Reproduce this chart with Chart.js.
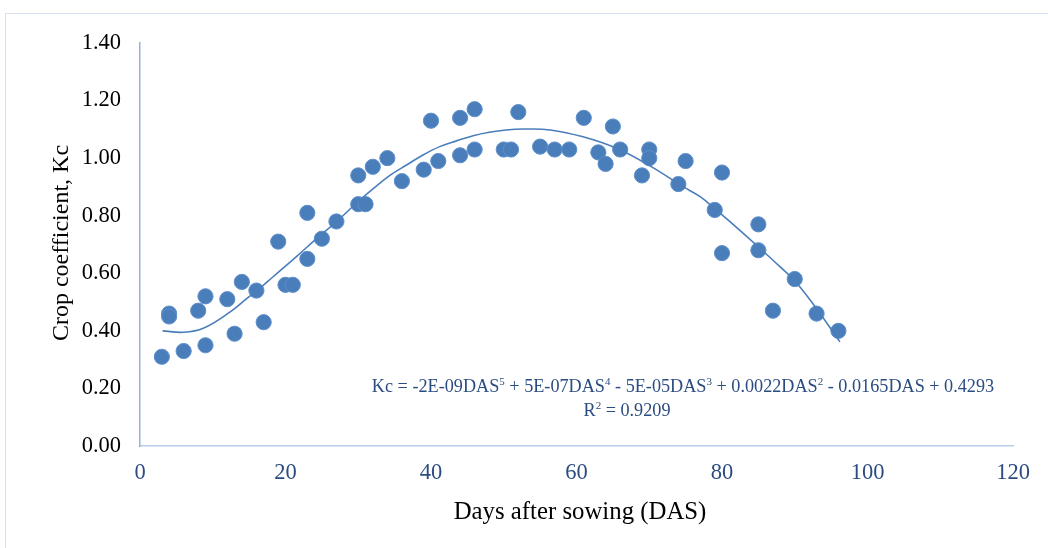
<!DOCTYPE html>
<html>
<head>
<meta charset="utf-8">
<script src="https://cdn.jsdelivr.net/npm/chart.js@4.4.1/dist/chart.umd.min.js"></script>
<style>
  html, body { margin: 0; padding: 0; background: #ffffff; overflow: hidden; }
  #frame { position: absolute; left: 5px; top: 13px; width: 1200px; height: 700px; border: 1px solid #d6e0ef; box-sizing: border-box; }
  #wrap { position: absolute; left: 0; top: 0; width: 1048px; height: 548px; }
</style>
</head>
<body>
<div id="frame"></div>
<div id="wrap"><canvas id="c" width="1048" height="548"></canvas></div>
<script>
// Observed data: days after sowing and crop coefficient
const das = [3, 4, 4, 6, 8, 9, 9, 12, 13, 14, 16, 17, 19, 20, 21, 23, 23, 25, 27, 30, 30, 31, 32, 34, 36, 39, 40, 41, 44, 44, 46, 46, 50, 51, 52, 55, 57, 59, 61, 63, 64, 65, 66, 69, 70, 70, 74, 75, 79, 80, 80, 85, 85, 87, 90, 93, 96];
const kc  = [0.31, 0.46, 0.45, 0.33, 0.47, 0.52, 0.35, 0.51, 0.39, 0.57, 0.54, 0.43, 0.71, 0.56, 0.56, 0.81, 0.65, 0.72, 0.78, 0.94, 0.84, 0.84, 0.97, 1.00, 0.92, 0.96, 1.13, 0.99, 1.14, 1.01, 1.17, 1.03, 1.03, 1.03, 1.16, 1.04, 1.03, 1.03, 1.14, 1.02, 0.98, 1.11, 1.03, 0.94, 1.03, 1.00, 0.91, 0.99, 0.82, 0.95, 0.67, 0.77, 0.68, 0.47, 0.58, 0.46, 0.40];

// Trendline (5th-order polynomial)
const trendX = [3.1, 6.0, 8.7, 12.4, 14.7, 16.2, 18.3, 21.5, 24.3, 27.0, 29.8, 32.1, 34.4, 36.7, 38.9, 41.2, 43.5, 45.8, 48.0, 50.3, 52.7, 56.4, 60.9, 65.5, 70.1, 74.7, 77.0, 79.2, 81.6, 85.2, 88.0, 90.2, 93.2, 96.2];
const trendY = [0.400, 0.395, 0.409, 0.466, 0.513, 0.542, 0.588, 0.658, 0.721, 0.779, 0.845, 0.895, 0.941, 0.977, 1.011, 1.040, 1.060, 1.078, 1.090, 1.098, 1.101, 1.098, 1.074, 1.034, 0.973, 0.900, 0.866, 0.820, 0.768, 0.687, 0.622, 0.568, 0.470, 0.362];

const xTicks = [0, 20, 40, 60, 80, 100, 120];
const yTicks = [0, 0.2, 0.4, 0.6, 0.8, 1.0, 1.2, 1.4];

const xTitle = "Days after sowing (DAS)";
const yTitle = "Crop coefficient, Kc";
const eqParts = [["Kc = -2E-09DAS", 0], ["5", 1], [" + 5E-07DAS", 0], ["4", 1], [" - 5E-05DAS", 0], ["3", 1], [" + 0.0022DAS", 0], ["2", 1], [" - 0.0165DAS + 0.4293", 0]];
const r2Parts = [["R", 0], ["2", 1], [" = 0.9209", 0]];

const FONT = "'Liberation Serif', 'Times New Roman', serif";
const BLUE = '#4a7ebb';

const scatterPts = das.map((d, i) => ({ x: d, y: kc[i] }));
const trendPts = trendX.map((d, i) => ({ x: d, y: trendY[i] }));

function drawRich(ctx, parts, cx, cy, size, color) {
  const sup = Math.round(size * 0.62);
  let total = 0;
  parts.forEach(([t, s]) => {
    ctx.font = (s ? sup : size) + 'px ' + FONT;
    total += ctx.measureText(t).width;
  });
  let x = cx - total / 2;
  ctx.fillStyle = color;
  ctx.textBaseline = 'alphabetic';
  ctx.textAlign = 'left';
  const base = cy + size * 0.33;
  parts.forEach(([t, s]) => {
    ctx.font = (s ? sup : size) + 'px ' + FONT;
    ctx.fillText(t, x, s ? base - size * 0.38 : base);
    x += ctx.measureText(t).width;
  });
}

const textPlugin = {
  id: 'texts',
  afterDraw(chart) {
    const ctx = chart.ctx;
    ctx.save();
    ctx.fillStyle = '#000';
    ctx.textAlign = 'center';
    ctx.textBaseline = 'middle';
    ctx.font = '24.8px ' + FONT;
    ctx.fillText(xTitle, 580, 512);
    ctx.font = '24px ' + FONT;
    ctx.translate(62, 243);
    ctx.rotate(-Math.PI / 2);
    ctx.fillText(yTitle, 0, 0);
    ctx.restore();
    ctx.save();
    drawRich(ctx, eqParts, 683, 386, 18.2, '#2b4c80');
    drawRich(ctx, r2Parts, 627, 410, 18.2, '#2b4c80');
    ctx.restore();
  }
};

new Chart(document.getElementById('c'), {
  type: 'scatter',
  data: {
    datasets: [
      {
        label: 'Trend',
        type: 'line',
        data: trendPts,
        borderColor: BLUE,
        borderWidth: 1.6,
        pointRadius: 0,
        fill: false,
        tension: 0.4,
        order: 0
      },
      {
        label: 'Kc',
        data: scatterPts,
        backgroundColor: BLUE,
        borderColor: '#5e8fcb',
        borderWidth: 1,
        pointRadius: 7.6,
        pointHoverRadius: 7.6,
        order: 1
      }
    ]
  },
  options: {
    responsive: false,
    animation: false,
    devicePixelRatio: 1,
    layout: { padding: { left: 0, right: 35, top: 43, bottom: 0 } },
    plugins: { legend: { display: false }, tooltip: { enabled: false } },
    scales: {
      x: {
        type: 'linear',
        min: 0, max: 120,
        afterBuildTicks(scale) { scale.ticks = xTicks.map(v => ({ value: v })); },
        afterFit(scale) { scale.height = 548 - 446; },
        grid: { display: false, drawTicks: false },
        border: { display: true, color: '#b9cde9', width: 1.5 },
        ticks: { color: '#2b4c80', font: { family: FONT, size: 22.5 }, padding: 14, maxRotation: 0 }
      },
      y: {
        type: 'linear',
        min: 0, max: 1.4,
        afterBuildTicks(scale) { scale.ticks = yTicks.map(v => ({ value: v })); },
        afterFit(scale) { scale.width = 140; },
        grid: { display: false, drawTicks: false },
        border: { display: true, color: '#8fb3e3', width: 1.5 },
        ticks: { color: '#000', font: { family: FONT, size: 22.5 }, padding: 19, callback: v => Number(v).toFixed(2) }
      }
    }
  },
  plugins: [textPlugin]
});
</script>
</body>
</html>
